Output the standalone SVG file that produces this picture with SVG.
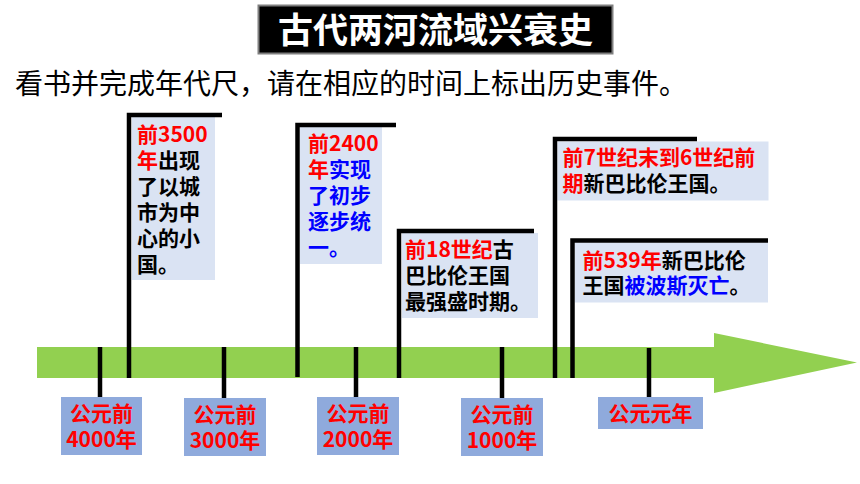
<svg xmlns="http://www.w3.org/2000/svg" width="860" height="484" viewBox="0 0 860 484">
<style>
.cjk{font-family:"Noto Sans CJK SC","Noto Sans",sans-serif;}
.flag{fill:#dae3f3;}
.pole{fill:none;stroke:#000;stroke-width:4.5;stroke-linejoin:miter;stroke-linecap:butt;}
.ft{font-family:"Noto Sans CJK SC","Noto Sans",sans-serif;font-size:21px;font-weight:bold;fill:#000;}
.r{fill:#ff0000;}
.b{fill:#0000ff;}
.k{fill:#000;}
.lab{fill:#8faadc;}
.lt{font-family:"Noto Sans CJK SC","Noto Sans",sans-serif;font-size:21px;font-weight:bold;fill:#ff0000;text-anchor:middle;}
.tick{stroke:#000;stroke-width:4.5;}
</style>
<rect width="860" height="484" fill="#ffffff"/>
<g id="title">
<rect x="258.5" y="5.5" width="354" height="48" fill="#000" stroke="#7f7f7f" stroke-width="2"/>
<text x="435.5" y="43" class="cjk" font-size="35" font-weight="bold" fill="#fff" text-anchor="middle">古代两河流域兴衰史</text>
</g>
<g id="instruction">
<text x="15" y="94" class="cjk" font-size="28" fill="#000">看书并完成年代尺，请在相应的时间上标出历史事件。</text>
</g>
<g id="axis">
<path d="M37,347 H714 V333 L857,362.5 L714,393 V378 H37 Z" fill="#92d050"/>
</g>
<g id="connectors">
<line class="tick" x1="100" y1="347" x2="100" y2="398"/>
<line class="tick" x1="224" y1="347" x2="224" y2="399"/>
<line class="tick" x1="356" y1="347" x2="356" y2="398"/>
<line class="tick" x1="502" y1="347" x2="502" y2="399"/>
<line class="tick" x1="649" y1="348" x2="649" y2="398"/>
</g>
<g id="flag-3500">
<rect class="flag" x="132" y="117" width="83" height="163"/>
<polyline class="pole" points="129,378 129,115 222,115"/>
<text class="ft" x="137" y="142"><tspan class="r">前3500</tspan></text>
<text class="ft" x="137" y="168"><tspan class="r">年</tspan>出现</text>
<text class="ft" x="137" y="194">了以城</text>
<text class="ft" x="137" y="220">市为中</text>
<text class="ft" x="137" y="246">心的小</text>
<text class="ft" x="137" y="272">国。</text>
</g>
<g id="flag-2400">
<rect class="flag" x="300" y="127" width="82" height="137"/>
<polyline class="pole" points="297.5,377 297.5,125 396,125"/>
<text class="ft" x="308" y="151"><tspan class="r">前2400</tspan></text>
<text class="ft" x="308" y="177"><tspan class="r">年</tspan><tspan class="b">实现</tspan></text>
<text class="ft b" x="308" y="203">了初步</text>
<text class="ft b" x="308" y="229">逐步统</text>
<text class="ft b" x="308" y="255">一。</text>
</g>
<g id="flag-18c">
<rect class="flag" x="402" y="233" width="136" height="85"/>
<polyline class="pole" points="399,378 399,231 534,231"/>
<text class="ft" x="405" y="257"><tspan class="r">前18世纪</tspan>古</text>
<text class="ft" x="405" y="283">巴比伦王国</text>
<text class="ft" x="405" y="309">最强盛时期。</text>
</g>
<g id="flag-7c">
<rect class="flag" x="557.5" y="141.5" width="211" height="59"/>
<polyline class="pole" points="555,378 555,139 697,139"/>
<text class="ft" x="562.5" y="165"><tspan class="r">前7世纪末到6世纪前</tspan></text>
<text class="ft" x="562.5" y="191"><tspan class="r">期</tspan>新巴比伦王国。</text>
</g>
<g id="flag-539">
<rect class="flag" x="575" y="242.5" width="193" height="60"/>
<polyline class="pole" points="572.5,378 572.5,240.5 768,240.5"/>
<text class="ft" x="582.5" y="268"><tspan class="r">前539年</tspan>新巴比伦</text>
<text class="ft" x="582.5" y="293">王国<tspan class="b">被波斯灭亡</tspan>。</text>
</g>
<g id="label-4000">
<rect class="lab" x="61" y="397" width="81" height="58"/>
<text class="lt" x="101.5" y="421">公元前</text>
<text class="lt" x="101.5" y="447">4000年</text>
</g>
<g id="label-3000">
<rect class="lab" x="184" y="398" width="82" height="58"/>
<text class="lt" x="225" y="422">公元前</text>
<text class="lt" x="225" y="448">3000年</text>
</g>
<g id="label-2000">
<rect class="lab" x="317" y="397" width="82" height="58"/>
<text class="lt" x="358" y="421">公元前</text>
<text class="lt" x="358" y="447">2000年</text>
</g>
<g id="label-1000">
<rect class="lab" x="461" y="398" width="82" height="58"/>
<text class="lt" x="502" y="422">公元前</text>
<text class="lt" x="502" y="448">1000年</text>
</g>
<g id="label-0">
<rect class="lab" x="598" y="397" width="105" height="32"/>
<text class="lt" x="650.5" y="421">公元元年</text>
</g>
</svg>
